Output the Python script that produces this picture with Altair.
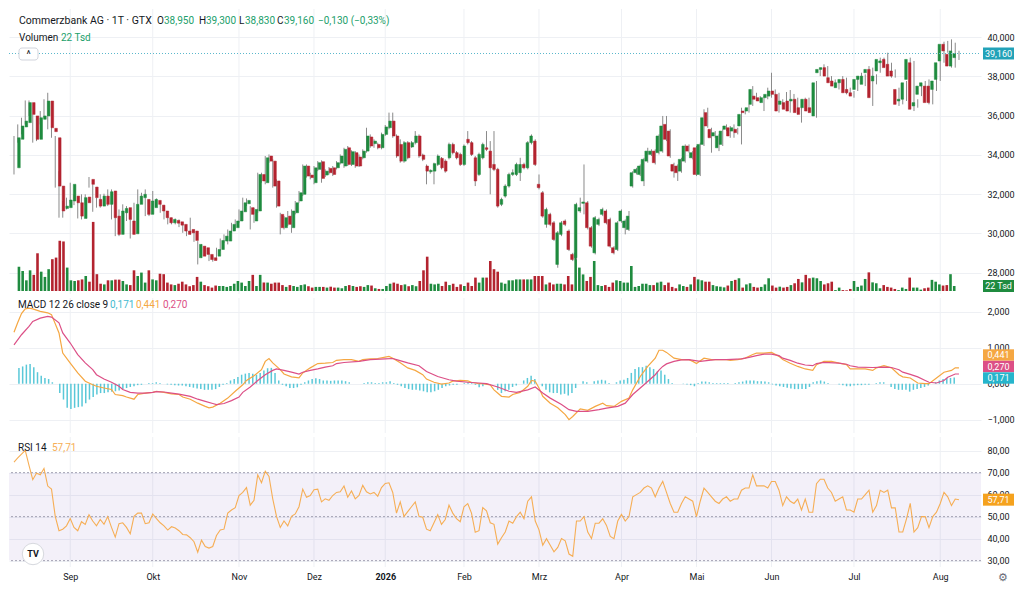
import altair as alt
import pandas as pd

# ---------------- data ----------------
OPEN = [
    33.34, 34.79, 35.42, 35.64, 36.66, 35.98, 34.79, 35.81, 35.98, 36.74,
    35.35, 34.87, 32.41, 31.27, 31.31, 31.65, 31.90, 31.56, 30.76, 31.85,
    32.75, 32.36, 31.73, 31.39, 31.90, 31.48, 32.16, 30.88, 29.95, 31.05,
    31.31, 30.63, 29.98, 31.48, 31.82, 31.73, 30.97, 31.31, 31.68, 31.44,
    31.14, 30.80, 30.54, 30.66, 30.59, 30.46, 30.12, 30.20, 30.12, 28.76,
    29.35, 29.27, 28.93, 28.76, 28.84, 29.18, 29.61, 29.61, 30.12, 30.29,
    30.63, 31.10, 31.51, 31.31, 30.63, 31.14, 33.00, 32.58, 33.94, 33.68,
    32.67, 30.97, 30.29, 30.88, 30.29, 31.05, 31.65, 31.99, 33.43, 32.97,
    32.58, 33.26, 33.65, 32.97, 33.31, 33.34, 33.34, 33.58, 33.43, 34.36,
    33.51, 34.11, 33.89, 33.85, 34.19, 34.91, 34.57, 34.53, 34.36, 35.04,
    35.38, 35.72, 34.96, 34.53, 33.68, 34.62, 34.40, 34.62, 34.96, 33.99,
    33.43, 33.14, 33.17, 33.51, 33.82, 33.68, 33.85, 34.53, 34.11, 34.02,
    33.51, 34.79, 34.62, 33.85, 33.00, 33.85, 34.36, 34.19, 33.51, 33.26,
    31.48, 31.90, 32.41, 33.00, 33.00, 33.09, 33.51, 33.34, 34.62, 34.70,
    32.50, 32.07, 30.46, 30.97, 30.54, 28.42, 29.95, 30.63, 30.12, 28.93,
    28.76, 31.14, 31.53, 31.56, 30.29, 29.01, 30.46, 30.97, 31.14, 30.71,
    29.27, 29.18, 30.63, 30.29, 30.20, 32.41, 33.09, 33.00, 32.67, 33.68,
    34.02, 34.19, 34.11, 34.19, 35.55, 35.21, 33.51, 33.43, 33.17, 33.68,
    34.45, 33.85, 34.36, 33.00, 34.53, 36.15, 35.30, 34.96, 34.36, 34.53,
    35.30, 35.38, 35.21, 35.30, 35.47, 36.23, 36.23, 36.57, 36.99, 36.91,
    36.66, 36.91, 36.99, 37.25, 37.08, 36.57, 36.66, 36.74, 36.74, 36.83,
    36.40, 36.40, 36.83, 36.40, 35.98, 38.18, 38.35, 38.44, 37.93, 37.76,
    37.42, 37.67, 37.84, 37.33, 37.16, 37.33, 37.84, 37.59, 38.18, 38.35,
    37.76, 38.27, 38.69, 38.86, 38.61, 38.27, 37.33, 36.74, 36.83, 37.84,
    38.69, 36.49, 37.08, 37.50, 37.50, 37.50, 37.33, 37.84, 38.78, 39.63,
    39.12, 38.52, 38.95,
]
HIGH = [
    34.96, 35.55, 35.89, 36.77, 36.77, 36.06, 35.98, 36.23, 36.83, 37.16,
    35.47, 34.96, 33.17, 31.65, 31.82, 32.58, 31.99, 31.65, 31.99, 31.99,
    32.87, 32.50, 31.82, 31.99, 32.02, 32.24, 32.24, 30.97, 31.22, 31.48,
    31.39, 30.71, 31.56, 32.24, 32.07, 32.24, 31.73, 32.16, 31.78, 31.51,
    31.22, 30.88, 30.80, 30.76, 30.71, 30.54, 30.20, 30.80, 30.20, 29.61,
    29.44, 29.35, 29.01, 28.84, 29.27, 29.74, 29.95, 30.20, 30.54, 30.71,
    31.22, 31.82, 31.78, 31.39, 31.31, 33.09, 33.09, 33.94, 34.02, 33.77,
    32.75, 31.05, 30.88, 31.14, 31.22, 31.65, 32.16, 33.51, 33.51, 33.09,
    33.43, 33.68, 33.72, 33.26, 33.38, 33.43, 33.68, 34.02, 34.36, 34.45,
    34.23, 34.19, 34.02, 34.28, 35.38, 35.04, 34.79, 34.62, 35.13, 35.52,
    36.15, 36.15, 35.04, 34.79, 34.70, 34.70, 34.70, 35.21, 35.04, 34.06,
    33.51, 33.26, 33.60, 34.02, 33.89, 33.77, 34.62, 34.62, 34.19, 34.11,
    34.53, 35.21, 34.70, 33.94, 34.11, 34.62, 35.21, 34.70, 35.21, 33.34,
    31.82, 32.50, 33.09, 33.26, 33.60, 33.85, 33.60, 34.70, 35.04, 34.79,
    33.00, 32.16, 31.31, 31.05, 30.63, 30.12, 30.63, 30.71, 30.20, 29.01,
    31.56, 31.82, 33.51, 31.65, 30.37, 30.88, 30.80, 31.31, 31.22, 30.80,
    29.35, 30.63, 31.22, 30.71, 31.14, 33.17, 33.34, 33.51, 33.85, 34.36,
    34.28, 34.28, 35.04, 35.98, 35.98, 35.30, 33.60, 33.51, 33.85, 34.53,
    34.53, 34.19, 34.45, 34.62, 36.32, 36.40, 35.38, 35.21, 35.04, 35.30,
    35.55, 35.47, 35.55, 35.38, 36.40, 36.32, 36.57, 37.50, 37.16, 36.99,
    36.99, 37.42, 38.18, 37.33, 37.16, 36.83, 37.20, 37.30, 37.10, 36.91,
    36.49, 36.91, 36.91, 36.49, 37.76, 38.44, 38.61, 38.52, 38.01, 37.84,
    37.76, 38.01, 37.93, 37.42, 37.25, 37.93, 38.18, 38.10, 38.52, 38.44,
    38.10, 38.95, 38.95, 39.20, 38.69, 38.35, 37.42, 36.91, 37.76, 38.95,
    38.78, 36.83, 37.59, 37.76, 37.84, 37.59, 37.93, 38.78, 39.76, 39.80,
    39.88, 39.71, 39.30,
]
LOW = [
    33.00, 34.62, 35.04, 35.55, 35.98, 34.62, 34.70, 35.55, 35.89, 35.30,
    34.87, 32.33, 30.80, 30.80, 31.22, 31.56, 31.44, 30.76, 30.71, 31.44,
    32.33, 31.10, 31.31, 31.31, 31.39, 31.39, 30.71, 29.86, 29.86, 30.97,
    30.63, 29.74, 29.95, 31.39, 31.73, 30.88, 30.88, 31.22, 31.39, 31.05,
    30.71, 30.46, 30.46, 30.46, 30.32, 30.03, 29.86, 29.95, 29.57, 28.42,
    28.76, 28.84, 28.59, 28.56, 28.76, 29.10, 29.52, 29.44, 30.03, 30.20,
    30.54, 30.63, 31.39, 30.20, 30.54, 31.05, 32.58, 32.50, 33.60, 32.33,
    31.31, 29.95, 30.20, 30.37, 30.03, 30.97, 31.56, 31.90, 32.84, 32.75,
    32.50, 33.17, 32.58, 32.87, 33.00, 32.92, 33.26, 33.51, 33.34, 33.43,
    33.43, 33.34, 33.38, 33.77, 34.11, 34.36, 34.36, 34.28, 34.28, 34.96,
    35.30, 34.87, 33.85, 33.60, 33.60, 33.77, 34.36, 34.53, 33.85, 33.68,
    32.50, 33.04, 32.50, 33.43, 33.26, 33.09, 33.77, 34.02, 33.77, 33.43,
    33.43, 34.53, 33.94, 32.41, 32.92, 33.77, 34.19, 31.99, 33.17, 31.31,
    31.39, 31.82, 32.33, 32.92, 32.92, 32.67, 33.26, 33.26, 34.53, 33.43,
    32.24, 30.80, 30.29, 30.37, 29.61, 28.25, 29.86, 30.37, 29.10, 28.59,
    28.67, 31.05, 30.97, 30.20, 29.27, 28.93, 30.37, 30.88, 30.46, 29.27,
    28.93, 29.10, 30.54, 29.95, 30.12, 32.33, 33.00, 32.92, 32.41, 33.60,
    33.94, 33.51, 34.02, 34.11, 34.70, 33.85, 32.84, 32.67, 33.09, 33.60,
    34.11, 33.77, 32.92, 32.92, 34.45, 35.38, 34.11, 34.87, 34.19, 34.45,
    35.21, 34.87, 34.87, 35.04, 34.53, 36.06, 36.15, 36.49, 36.74, 36.66,
    36.23, 36.83, 36.91, 36.99, 36.15, 36.49, 36.23, 36.15, 36.66, 36.06,
    35.64, 36.32, 36.15, 35.98, 35.89, 38.01, 38.27, 37.93, 37.59, 37.42,
    37.33, 37.59, 37.08, 37.08, 36.91, 37.25, 37.76, 37.50, 38.10, 36.49,
    37.59, 38.18, 38.61, 38.35, 37.93, 37.93, 36.49, 36.57, 36.74, 37.76,
    36.23, 36.40, 36.99, 37.42, 36.57, 36.57, 37.25, 37.76, 38.69, 39.20,
    38.44, 38.44, 38.83,
]
CLOSE = [
    34.87, 35.47, 35.72, 36.66, 36.06, 34.79, 35.89, 35.98, 36.74, 35.38,
    35.18, 32.41, 31.14, 31.39, 31.70, 32.50, 31.56, 30.88, 31.82, 31.56,
    32.50, 31.82, 31.39, 31.90, 31.48, 32.12, 30.80, 29.95, 31.14, 31.27,
    30.71, 29.95, 31.48, 31.90, 31.99, 30.97, 31.65, 31.73, 31.48, 31.14,
    30.80, 30.54, 30.71, 30.52, 30.42, 30.12, 29.95, 30.03, 29.64, 29.44,
    28.84, 28.93, 28.67, 28.62, 29.18, 29.64, 29.86, 30.12, 30.46, 30.63,
    31.14, 31.56, 31.68, 30.97, 31.22, 33.00, 32.67, 33.85, 33.68, 32.41,
    31.39, 30.29, 30.80, 30.46, 31.14, 31.56, 32.07, 33.43, 32.92, 32.84,
    33.34, 33.60, 32.80, 33.17, 33.09, 33.00, 33.60, 33.94, 34.28, 33.51,
    34.16, 33.43, 33.43, 34.19, 34.96, 34.45, 34.70, 34.36, 35.04, 35.42,
    35.72, 34.96, 33.94, 33.68, 34.62, 33.85, 34.62, 34.96, 33.94, 33.77,
    33.17, 33.21, 33.55, 33.94, 33.34, 33.17, 34.53, 34.11, 33.85, 33.51,
    34.45, 34.62, 34.02, 32.67, 34.02, 34.53, 34.28, 33.34, 33.26, 31.39,
    31.73, 32.41, 33.00, 33.09, 33.51, 33.51, 33.34, 34.62, 34.96, 33.51,
    32.33, 30.88, 31.22, 30.46, 29.69, 30.03, 30.54, 30.46, 29.18, 28.67,
    31.48, 31.31, 31.60, 30.29, 29.35, 30.80, 30.71, 31.22, 30.54, 29.35,
    29.01, 30.54, 31.14, 30.63, 30.88, 33.09, 33.26, 33.43, 33.77, 34.19,
    34.19, 33.60, 34.96, 35.47, 34.79, 33.94, 33.17, 33.09, 33.77, 34.45,
    34.19, 34.11, 33.00, 34.53, 35.89, 35.47, 34.87, 35.13, 34.96, 35.21,
    35.47, 34.96, 35.38, 35.13, 36.06, 36.15, 36.40, 37.33, 36.83, 36.74,
    36.91, 37.08, 37.25, 37.08, 36.23, 36.74, 36.32, 36.23, 36.83, 36.15,
    36.06, 36.83, 36.23, 36.15, 37.67, 38.35, 38.44, 38.01, 37.67, 37.50,
    37.67, 37.84, 37.16, 37.16, 36.99, 37.84, 38.01, 38.01, 38.35, 36.91,
    38.01, 38.86, 38.78, 38.44, 38.01, 38.01, 36.57, 36.83, 37.67, 38.86,
    36.32, 36.66, 37.50, 37.67, 36.66, 36.66, 37.76, 38.69, 39.63, 39.29,
    38.52, 39.29, 39.16,
]
VOLUME_TSD = [
    107, 88, 47, 91, 71, 166, 85, 62, 96, 140,
    147, 221, 218, 103, 47, 44, 47, 51, 66, 41,
    304, 74, 32, 29, 47, 47, 50, 50, 44, 29,
    26, 91, 66, 81, 37, 91, 51, 47, 76, 74,
    37, 29, 26, 32, 41, 29, 21, 26, 62, 41,
    26, 21, 15, 24, 22, 22, 18, 22, 32, 44,
    37, 22, 44, 71, 22, 71, 37, 37, 32, 37,
    37, 26, 18, 26, 22, 18, 26, 29, 21, 15,
    18, 18, 18, 15, 19, 15, 15, 12, 22, 26,
    22, 18, 21, 18, 26, 24, 12, 9, 9, 22,
    32, 37, 32, 26, 29, 21, 26, 21, 44, 91,
    151, 32, 29, 32, 22, 41, 26, 32, 18, 29,
    22, 37, 22, 59, 37, 59, 59, 132, 96, 85,
    37, 32, 47, 47, 51, 51, 51, 51, 51, 66,
    66, 66, 29, 37, 29, 32, 32, 29, 66, 29,
    169, 103, 73, 44, 62, 132, 26, 22, 26, 18,
    37, 47, 44, 37, 37, 110, 18, 22, 32, 32,
    26, 26, 37, 41, 26, 37, 18, 12, 29, 22,
    18, 29, 62, 51, 47, 41, 41, 26, 21, 19,
    16, 24, 44, 49, 56, 15, 29, 34, 18, 15,
    18, 29, 56, 24, 15, 19, 15, 18, 26, 34,
    53, 38, 71, 56, 59, 56, 44, 29, 34, 41,
    4, 15, 4, 3, 9, 44, 18, 24, 53, 82,
    38, 34, 12, 26, 18, 15, 9, 4, 15, 9,
    59, 15, 15, 6, 12, 15, 49, 41, 29, 24,
    26, 74, 22,
]
HIST = [
    0.44, 0.48, 0.53, 0.55, 0.46, 0.32, 0.22, 0.16, 0.13, 0.04,
    0.00, -0.26, -0.44, -0.67, -0.70, -0.67, -0.65, -0.63, -0.54, -0.44,
    -0.37, -0.30, -0.26, -0.26, -0.24, -0.22, -0.21, -0.19, -0.15, -0.12,
    -0.09, -0.07, -0.04, -0.03, 0.00, 0.02, 0.02, 0.04, 0.02, 0.00,
    -0.02, -0.03, -0.04, -0.05, -0.05, -0.07, -0.09, -0.11, -0.13, -0.15,
    -0.17, -0.17, -0.17, -0.15, -0.09, -0.03, 0.02, 0.09, 0.13, 0.19,
    0.25, 0.28, 0.30, 0.28, 0.25, 0.30, 0.37, 0.43, 0.44, 0.30,
    0.09, -0.03, -0.07, -0.12, -0.12, -0.10, -0.03, 0.04, 0.09, 0.13,
    0.15, 0.13, 0.09, 0.09, 0.08,
    0.09, 0.09, 0.09, 0.07, 0.04, 0.00, 0.00, 0.00, 0.02, 0.04,
    0.04, 0.02, 0.02, 0.04, 0.04, 0.07, 0.02, -0.03, -0.07, -0.12,
    -0.15, -0.17, -0.17, -0.19, -0.21, -0.24, -0.24, -0.21, -0.17, -0.12,
    -0.07, -0.05, -0.03, -0.03, 0.00, 0.02, 0.04, 0.02, -0.03, -0.10,
    -0.07, -0.03, 0.00, 0.00, -0.17, -0.26, -0.21, -0.17, -0.09, -0.05,
    0.00, 0.09, 0.16, 0.22, 0.13, 0.00, -0.07, -0.17, -0.24, -0.26,
    -0.26, -0.30, -0.28, -0.33, -0.26, -0.12, 0.00, 0.07, 0.04, 0.00,
    0.07, 0.09, 0.11, 0.09, 0.02, 0.00, 0.04, 0.09, 0.11, 0.16,
    0.30, 0.41, 0.46, 0.46, 0.50, 0.46, 0.41, 0.34,
    0.37, 0.25, 0.13, 0.02, 0.00, 0.00, -0.01, -0.02, -0.04, -0.07,
    0.02, 0.06, 0.06, 0.04, 0.02, 0.02, 0.02, 0.02, 0.02, 0.00,
    0.02, 0.04, 0.06, 0.09, 0.09, 0.09, 0.07, 0.07, 0.06, 0.04,
    -0.02, -0.05, -0.07, -0.09, -0.11, -0.13, -0.15, -0.15, -0.15, -0.15,
    -0.09, 0.04, 0.07, 0.09, 0.06, 0.02, 0.00, 0.00, -0.02, -0.04,
    -0.07, -0.07, -0.05, -0.04, -0.04, -0.03, -0.03, 0.00, 0.02, 0.04,
    0.04, 0.00, -0.09, -0.15, -0.17, -0.17, -0.17, -0.22, -0.17, -0.15,
    -0.12, -0.09, -0.05, 0.00, 0.04, 0.09, 0.13, 0.16, 0.16, 0.171,
]
RSI = [
    74.8, 76.7, 78.4, 80.1, 73.3, 66.8, 69.7, 69.0, 71.9, 63.9,
    62.5, 50.1, 43.6, 44.3, 45.8, 49.1, 45.1, 43.6, 47.7, 46.5,
    50.9, 48.0, 45.8, 48.7, 46.5, 50.0, 45.1, 40.7, 46.8, 47.2,
    45.1, 42.2, 50.1, 51.6, 51.6, 46.8, 47.2, 51.2, 49.1, 47.2,
    45.8, 43.9, 45.4, 44.8, 43.6, 41.9, 41.7, 40.4, 38.6, 33.8,
    39.3, 36.4, 35.7, 36.4, 41.4, 43.9, 44.3, 51.6, 53.0, 54.1,
    59.6, 61.0, 63.2, 55.2, 57.4, 69.0, 65.4, 70.7, 68.3, 58.1,
    50.1, 45.1, 48.0, 45.8, 50.1, 51.2, 54.5, 62.5, 58.8, 59.6,
    62.2, 62.5, 56.7, 58.1, 57.4, 59.6, 61.0, 61.3, 63.9, 58.8,
    61.7, 58.1, 59.6, 64.2, 61.3, 60.3, 61.0, 59.3, 63.2, 65.1,
    65.4, 61.0, 51.6, 56.7, 50.1, 52.3, 54.5, 56.7, 50.1, 49.7,
    44.3, 43.6, 47.2, 50.9, 46.5, 48.7, 55.2, 51.6, 49.1, 47.7,
    54.5, 55.9, 51.6, 42.9, 43.6, 54.1, 52.6, 47.2, 46.5, 37.5,
    40.4,
    43, 48, 47, 50, 52, 49, 57, 59, 48, 44,
    37, 40, 37, 34, 36, 40, 39, 33, 32, 48,
    48, 50, 43, 40, 47, 47, 49, 46, 41, 40,
    48, 51, 48, 50, 59, 60, 61, 63, 64, 63,
    59, 63, 66, 61, 56, 52, 52, 56, 59, 58,
    57, 50, 57, 63, 61, 59, 57, 56, 58, 59,
    57, 58, 58, 62, 63, 63, 69, 64, 64, 64,
    63, 66, 66, 62, 55, 59, 57, 56, 58, 53,
    58, 52, 52, 65, 67, 67, 63, 61, 57, 58,
    59, 53, 53, 52, 58, 58, 60, 62, 52, 55,
    62, 61, 62, 54, 54, 43, 43, 49, 56, 43,
    45, 50, 50, 45, 50, 52, 56, 61, 59, 55,
    58, 57.71,
]
MACD_IDX = [0, 1, 2, 3, 4, 5, 7, 9, 10, 12, 13, 15, 17, 19, 21, 22, 24, 26, 27, 29,
            30, 32, 33, 35, 37, 38, 40, 42, 44, 45, 47, 49, 51, 52, 53, 55, 57, 59, 61, 62,
            64, 66, 67, 68, 69, 71, 72, 74, 76, 77, 79, 81, 83, 85, 86, 88, 90, 92, 93, 95,
            97, 99, 100, 101, 103, 105, 107, 109, 110, 112, 114, 116, 117, 119, 121, 122, 124, 125, 127, 128,
            130, 132, 133, 135, 137, 138, 139, 140, 141, 143, 145, 147, 148, 149, 151, 153, 155, 157, 158, 160,
            162, 164, 165, 167, 169, 171, 172, 173, 174, 176, 178, 180, 181, 182, 184, 186, 188, 190, 191, 193,
            195, 197, 198, 200, 202, 204, 205, 207, 209, 211, 213, 214, 216, 218, 220, 222, 223, 225, 227, 229,
            230, 232, 234, 236, 237, 239, 241, 243, 244, 246, 248, 250, 251, 252]
MACD_VAL = [1.43, 1.70, 1.95, 2.08, 2.10, 2.08, 2.01, 1.97, 1.92, 1.41, 0.85, 0.57, 0.30, 0.07, -0.03, -0.07, -0.12, -0.16, -0.30, -0.33,
            -0.37, -0.43, -0.30, -0.26, -0.24, -0.21, -0.24, -0.28, -0.30, -0.37, -0.43, -0.54, -0.63, -0.67, -0.65, -0.54, -0.40, -0.21, -0.03, 0.09,
            0.22, 0.39, 0.62, 0.70, 0.58, 0.39, 0.27, 0.19, 0.16, 0.30, 0.44, 0.56, 0.57, 0.59, 0.65, 0.67, 0.67, 0.62, 0.67, 0.69,
            0.70, 0.74, 0.76, 0.71, 0.58, 0.44, 0.37, 0.25, 0.13, 0.04, -0.01, 0.02, 0.07, 0.09, 0.08, 0.04, 0.00, 0.00, -0.03, -0.17,
            -0.35, -0.37, -0.30, -0.24, -0.07, 0.09, 0.07, -0.12, -0.35, -0.54, -0.67, -0.86, -1.00, -0.91, -0.70, -0.74, -0.63, -0.54, -0.61, -0.63,
            -0.49, -0.40, -0.17, 0.20, 0.48, 0.71, 0.93, 0.93, 0.87, 0.71, 0.67, 0.67, 0.62, 0.56, 0.71, 0.67, 0.67, 0.67, 0.65, 0.67,
            0.71, 0.81, 0.85, 0.85, 0.87, 0.76, 0.67, 0.57, 0.48, 0.41, 0.37, 0.53, 0.62, 0.62, 0.57, 0.53, 0.41, 0.41, 0.41, 0.37,
            0.44, 0.50, 0.44, 0.25, 0.19, 0.16, 0.02, 0.00, 0.00, 0.16, 0.32, 0.37, 0.44, 0.441]
SIG_IDX = [0, 2, 4, 5, 7, 9, 10, 12, 13, 15, 17, 19, 21, 22, 24, 26, 28, 29, 31, 33,
           35, 37, 38, 40, 42, 44, 45, 47, 49, 51, 53, 54, 56, 58, 60, 61, 63, 65, 67, 69,
           70, 72, 74, 76, 77, 79, 81, 83, 85, 86, 88, 92, 95, 99, 101, 102, 105, 108, 110, 113,
           116, 118, 121, 124, 126, 129, 132, 134, 137, 139, 141, 143, 146, 148, 150, 153, 156, 158, 161, 163,
           165, 168, 171, 172, 173, 174, 176, 178, 180, 183, 187, 190, 194, 196, 198, 200, 202, 204, 205, 207,
           209, 211, 213, 214, 216, 220, 222, 223, 225, 229, 232, 234, 236, 237, 239, 241, 243, 244, 246, 248,
           249, 251, 252]
SIG_VAL = [1.08, 1.36, 1.59, 1.73, 1.82, 1.87, 1.85, 1.69, 1.41, 1.13, 0.81, 0.58, 0.39, 0.25, 0.13, 0.04, -0.07, -0.16, -0.24, -0.26,
           -0.26, -0.24, -0.22, -0.23, -0.26, -0.29, -0.31, -0.35, -0.43, -0.49, -0.55, -0.58, -0.55, -0.47, -0.37, -0.24, -0.09, 0.09, 0.25, 0.37,
           0.41, 0.37, 0.32, 0.27, 0.32, 0.37, 0.41, 0.46, 0.50, 0.56, 0.59, 0.62, 0.67, 0.69, 0.70, 0.67, 0.58, 0.50, 0.34, 0.20,
           0.11, 0.07, 0.04, 0.02, 0.00, -0.09, -0.21, -0.24, -0.17, -0.09, -0.26, -0.40, -0.58, -0.72, -0.77, -0.77, -0.72, -0.68, -0.63, -0.54,
           -0.30, -0.03, 0.25, 0.38, 0.48, 0.55, 0.62, 0.66, 0.67, 0.62, 0.67, 0.67, 0.69, 0.73, 0.78, 0.82, 0.82, 0.78, 0.71, 0.65,
           0.57, 0.52, 0.50, 0.56, 0.59, 0.57, 0.54, 0.50, 0.46, 0.45, 0.46, 0.45, 0.39, 0.32, 0.26, 0.19, 0.09, 0.04, 0.02, 0.09,
           0.18, 0.27, 0.270]

MONTH_IDX = [15, 37, 60, 80, 99, 120, 140, 162, 182, 202, 224, 247]
MONTH_NAMES = ["Sep", "Okt", "Nov", "Dez", "2026", "Feb", "Mrz", "Apr", "Mai", "Jun", "Jul", "Aug"]
PRICE_TICKS = [28, 30, 32, 34, 36, 38, 40]
MACD_TICKS = [-1, 0, 1, 2]
RSI_TICKS = [30, 40, 50, 60, 70, 80]
LAST_O, LAST_H, LAST_L, LAST_C = 38.95, 39.30, 38.83, 39.16
LAST_CHG, LAST_PCT, LAST_VOL = -0.13, -0.33, 22
MACD_LAST_HIST, MACD_LAST_MACD, MACD_LAST_SIG = 0.171, 0.441, 0.270
RSI_LAST = 57.71

# ---------------- styling ----------------
FONT = "Roboto"
DARK = "#131722"
GREEN = "#1f8b3f"
RED = "#b3232f"
TXT_GREEN = "#22a06b"
WICK = "#8a8a8a"
TEAL = "#22a2b8"
PLINE = "#5bb8cc"
GRID = "#eef0f4"
MACD_C = "#f5a742"
SIG_C = "#dc4f86"
HIST_C = "#5ac8d8"
RSI_C = "#f6ae55"
RSI_BOX = "#f5a21e"

n = len(CLOSE)
for arr in (OPEN, HIGH, LOW, VOLUME_TSD, HIST, RSI):
    assert len(arr) == n, (len(arr), n)
assert len(MACD_IDX) == len(MACD_VAL) and len(SIG_IDX) == len(SIG_VAL)

df = pd.DataFrame({"i": list(range(n)), "open": OPEN, "high": HIGH, "low": LOW,
                   "close": CLOSE, "vol": VOLUME_TSD, "hist": HIST, "rsi": RSI})
df["dir"] = ["up" if c >= o else "down" for o, c in zip(OPEN, CLOSE)]
mdf = pd.DataFrame({"i": MACD_IDX, "v": MACD_VAL})
sdf = pd.DataFrame({"i": SIG_IDX, "v": SIG_VAL})
gdf = pd.DataFrame({"i": MONTH_IDX})
one = pd.DataFrame({"k": [0]})


def fmt(v, d):
    return f"{v:.{d}f}".replace(".", ",").replace("-", "\u2212")


W = 972
XDOM = [-1.333, 257.87]


def X(axis=None):
    return alt.X("i:Q", scale=alt.Scale(domain=XDOM, nice=False, zero=False), axis=axis)


PS = alt.Scale(domain=[26.914, 41.426], nice=False, zero=False)
VS = alt.Scale(domain=[-13.2, 1240.8], nice=False, zero=False)
MS = alt.Scale(domain=[-1.369, 2.381], nice=False, zero=False)
RS = alt.Scale(domain=[27.1, 86.2], nice=False, zero=False)
DIRS = alt.Scale(domain=["up", "down"], range=[GREEN, RED])


def yaxis(values, dec):
    return alt.Axis(orient="right", values=values, grid=True, gridColor=GRID, domain=False,
                    ticks=False, labelPadding=6, title=None, labelFontSize=9,
                    labelColor=DARK, labelFont=FONT,
                    labelExpr=f"replace(format(datum.value, '.{dec}f'), '.', ',')")


def label(text, x, y, color=DARK, size=10, weight="normal", align="left"):
    return alt.Chart(one).mark_text(text=text, font=FONT, fontSize=size, fontWeight=weight,
                                    color=color, align=align, baseline="middle").encode(
        x=alt.value(x), y=alt.value(y))


def box_datum(val, scale, color, text):
    rect = alt.Chart(one).mark_rect(color=color, yOffset=-6, y2Offset=6).encode(
        x=alt.value(W + 2), x2=alt.value(W + 33),
        y=alt.Y(datum=val, type="quantitative", scale=scale, axis=None),
        y2=alt.Y2(datum=val))
    txt = alt.Chart(one).mark_text(text=text, font=FONT, fontSize=9, color="white",
                                   align="center", baseline="middle").encode(
        x=alt.value(W + 17.5), y=alt.Y(datum=val, type="quantitative", scale=scale, axis=None))
    return [rect, txt]


def box_px(yc, color, text):
    rect = alt.Chart(one).mark_rect(color=color).encode(
        x=alt.value(W + 2), x2=alt.value(W + 33), y=alt.value(yc - 5.7), y2=alt.value(yc + 5.7))
    txt = label(text, W + 17.5, yc, color="white", size=9, align="center")
    return [rect, txt]


def vgrid():
    return alt.Chart(gdf).mark_rule(color=GRID, strokeWidth=1).encode(x=X())


# ---------------- price panel ----------------
vol = alt.Chart(df).mark_bar(size=2.6).encode(
    x=X(), y=alt.Y("vol:Q", scale=VS, axis=None), y2=alt.datum(0),
    color=alt.Color("dir:N", scale=DIRS, legend=None))
wick = alt.Chart(df).mark_rule(color=WICK, strokeWidth=1).encode(
    x=X(), y=alt.Y("low:Q", scale=PS, axis=yaxis(PRICE_TICKS, 3)), y2="high:Q")
body = alt.Chart(df).mark_bar(size=2.6, strokeWidth=0.5).encode(
    x=X(), y=alt.Y("open:Q", scale=PS, axis=None), y2="close:Q",
    color=alt.Color("dir:N", scale=DIRS, legend=None),
    stroke=alt.Stroke("dir:N", scale=DIRS, legend=None))
pline = alt.Chart(one).mark_rule(color=PLINE, strokeDash=[1, 2], strokeWidth=1).encode(
    y=alt.Y(datum=LAST_C, type="quantitative", scale=PS, axis=None),
    x=alt.value(0), x2=alt.value(W))

header = [
    label("Commerzbank AG \u00b7 1T \u00b7 GTX", 10, 12, size=10.5),
    label("O", 148, 12, size=10), label(fmt(LAST_O, 3), 155, 12, color=TXT_GREEN, size=10),
    label("H", 190, 12, size=10), label(fmt(LAST_H, 3), 197, 12, color=TXT_GREEN, size=10),
    label("L", 230, 12, size=10), label(fmt(LAST_L, 3), 236, 12, color=TXT_GREEN, size=10),
    label("C", 268, 12, size=10), label(fmt(LAST_C, 3), 275, 12, color=TXT_GREEN, size=10),
    label(f"{fmt(LAST_CHG, 3)} ({fmt(LAST_PCT, 2)}%)", 309, 12, color=TXT_GREEN, size=10),
    label("Volumen", 10, 29, size=10),
    label(f"{LAST_VOL} Tsd", 52, 29, color=TXT_GREEN, size=10),
    alt.Chart(one).mark_rect(fill="white", stroke="#d1d4dc", strokeWidth=1, cornerRadius=3).encode(
        x=alt.value(10), x2=alt.value(29), y=alt.value(39), y2=alt.value(51)),
    label("^", 19.5, 46, size=10, align="center"),
]

price = alt.layer(
    vgrid(), vol, wick, body, pline,
    *box_datum(LAST_C, PS, TEAL, fmt(LAST_C, 3)),
    *box_datum(LAST_VOL, VS, GREEN, f"{LAST_VOL} Tsd"),
    *header,
).resolve_scale(x="independent", y="independent").properties(width=W, height=285)

# ---------------- MACD panel ----------------
hist = alt.Chart(df).mark_bar(size=1.5, color=HIST_C).encode(
    x=X(), y=alt.Y("hist:Q", scale=MS, axis=yaxis(MACD_TICKS, 3)), y2=alt.datum(0))
mline = alt.Chart(mdf).mark_line(color=MACD_C, strokeWidth=1.2).encode(
    x=X(), y=alt.Y("v:Q", scale=MS, axis=None))
sline = alt.Chart(sdf).mark_line(color=SIG_C, strokeWidth=1.2).encode(
    x=X(), y=alt.Y("v:Q", scale=MS, axis=None))

macd = alt.layer(
    vgrid(), hist, mline, sline,
    *box_px(57, MACD_C, fmt(MACD_LAST_MACD, 3)),
    *box_px(68.5, SIG_C, fmt(MACD_LAST_SIG, 3)),
    *box_px(80, "#26b5cc", fmt(MACD_LAST_HIST, 3)),
    label("MACD 12 26 close 9", 9, 7, size=10),
    label(fmt(MACD_LAST_HIST, 3), 101, 7, color="#3fbad0", size=10),
    label(fmt(MACD_LAST_MACD, 3), 127, 7, color=MACD_C, size=10),
    label(fmt(MACD_LAST_SIG, 3), 154, 7, color=SIG_C, size=10),
).resolve_scale(x="independent", y="independent").properties(width=W, height=135)

# ---------------- RSI panel ----------------
month_expr = "".join(f"datum.value == {m} ? '{nm}' : " for m, nm in zip(MONTH_IDX, MONTH_NAMES)) + "''"
month_axis = alt.Axis(values=MONTH_IDX, labelExpr=month_expr, grid=False, domain=False, ticks=False,
                      labelPadding=5, title=None, labelFontSize=9, labelColor=DARK, labelFont=FONT,
                      labelOverlap=False, labelFlush=False,
                      labelFontWeight={"condition": {"test": "datum.value == 99", "value": "bold"},
                                       "value": "normal"})
band = alt.Chart(one).mark_rect(color="#7e57c2", opacity=0.09).encode(
    x=alt.value(0), x2=alt.value(W),
    y=alt.Y(datum=70, type="quantitative", scale=RS, axis=None), y2=alt.Y2(datum=30))
levels = alt.Chart(pd.DataFrame({"lv": [70, 50, 30]})).mark_rule(
    color="#8f8ca0", strokeDash=[2, 2], strokeWidth=1, opacity=0.8).encode(
    y=alt.Y("lv:Q", scale=RS, axis=None))
rline = alt.Chart(df).mark_line(color=RSI_C, strokeWidth=1.1).encode(
    x=X(month_axis), y=alt.Y("rsi:Q", scale=RS, axis=yaxis(RSI_TICKS, 2)))

rsi = alt.layer(
    vgrid(), band, levels, rline,
    *box_datum(RSI_LAST, RS, RSI_BOX, fmt(RSI_LAST, 2)),
    label("RSI 14", 9, 11, size=10),
    label(fmt(RSI_LAST, 2), 43, 11, color=RSI_C, size=10),
    alt.Chart(one).mark_point(shape="circle", size=460, filled=True, fill="white",
                              stroke="#d6d8de", strokeWidth=1, opacity=1).encode(
        x=alt.value(24), y=alt.value(117)),
    label("TV", 24, 117, size=9, weight="bold", align="center"),
    label("\u2699", W + 22, 141, color="#6a6d78", size=11, align="center"),
).resolve_scale(x="independent", y="independent").properties(width=W, height=130)

chart = alt.vconcat(price, macd, rsi, spacing=2).properties(
    padding={"left": 0, "top": 0, "right": 0, "bottom": 0}, background="white"
).configure_view(stroke=None)

chart.save("out.html", embed_options={"renderer": "svg", "actions": False})
